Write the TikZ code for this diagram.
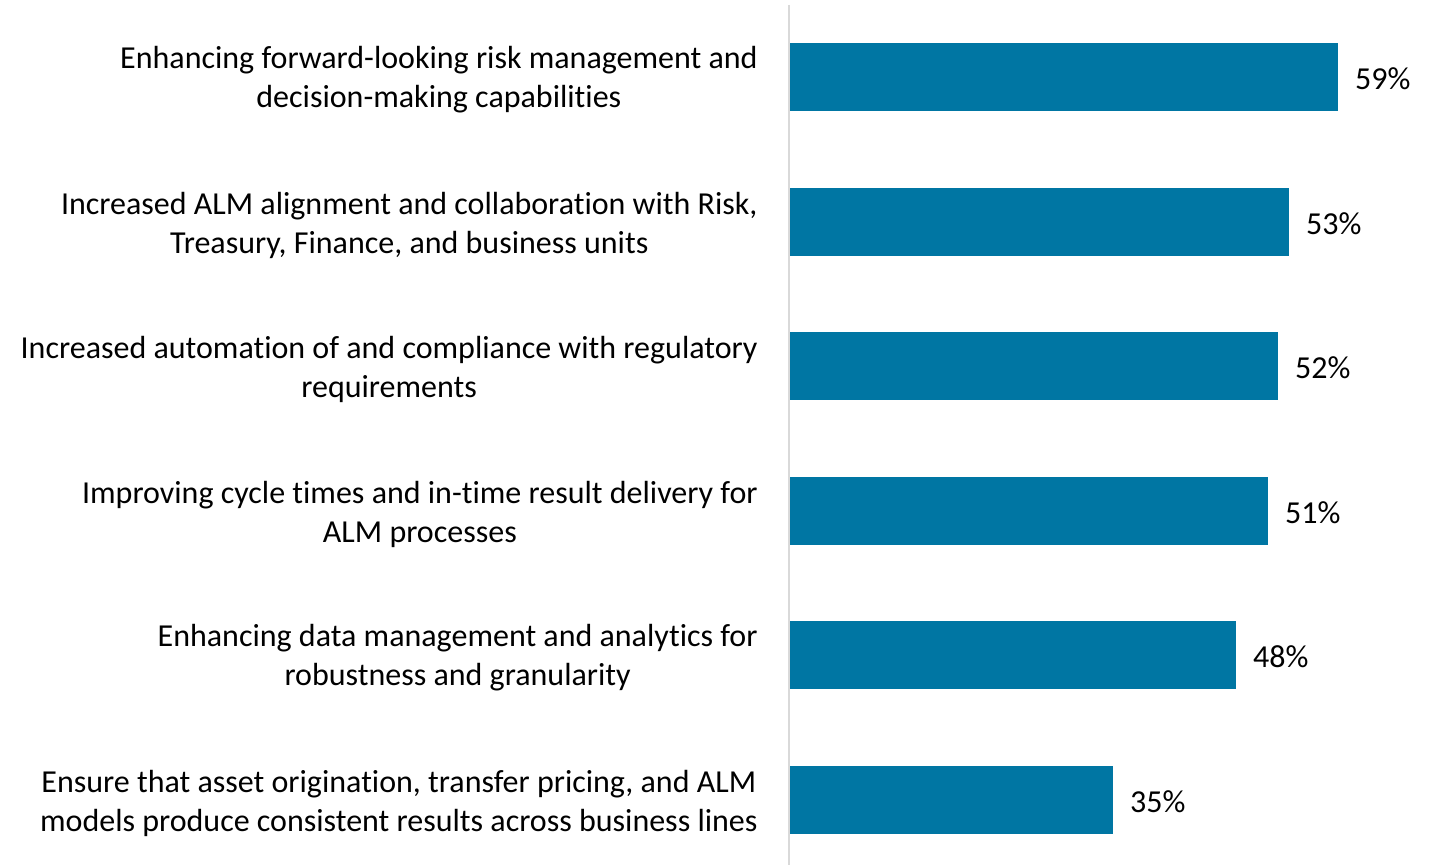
\documentclass[tikz,border=0pt]{standalone}
\usepackage{fontspec}
\setmainfont{Carlito}[Ligatures=NoCommon]
\usepackage{tikz}
\usetikzlibrary{positioning}
\usepackage{xcolor}
\definecolor{almblue}{RGB}{0,118,163}
\definecolor{axisgray}{RGB}{217,217,217}
\tikzstyle{bar} = [rectangle, fill=almblue, draw=none, anchor=west, minimum height=34pt, inner sep=0pt]
\tikzstyle{reason} = [align=center, inner sep=0pt, yshift=-1.5pt, font=\fontsize{16}{19.5}\selectfont]
\tikzstyle{pct} = [inner sep=0pt, yshift=-1pt, font=\fontsize{16}{19.5}\selectfont]
\tikzstyle{axis} = [line width=0.75pt, color=axisgray]

\begin{document}
\begin{tikzpicture}[x=0.5pt, y=-0.5pt]
\useasboundingbox (0,0) rectangle (1432,865);
% Axis
\coordinate (axtop) at (789,5);
\coordinate (axbot) at (789,865);
\draw[axis] (axtop) -- (axbot);

% Bars
\node (b1) [bar, minimum width=274pt] at (790,77) {};
\node (b2) [bar, minimum width=249.5pt] at (790,222) {};
\node (b3) [bar, minimum width=244pt] at (790,366) {};
\node (b4) [bar, minimum width=239pt] at (790,511) {};
\node (b5) [bar, minimum width=223pt] at (790,655) {};
\node (b6) [bar, minimum width=161.5pt] at (790,800) {};

% Category labels
\node (r1) [reason, left=16pt of b1] {Enhancing forward-looking risk management and\\decision-making capabilities};
\node (r2) [reason, left=16pt of b2] {Increased ALM alignment and collaboration with Risk,\\Treasury, Finance, and business units};
\node (r3) [reason, left=16pt of b3] {Increased automation of and compliance with regulatory\\requirements};
\node (r4) [reason, left=16pt of b4] {Improving cycle times and in-time result delivery for\\ALM processes};
\node (r5) [reason, left=16pt of b5] {Enhancing data management and analytics for\\robustness and granularity};
\node (r6) [reason, left=16pt of b6] {Ensure that asset origination, transfer pricing, and ALM\\models produce consistent results across business lines};

% Values
\node (p1) [pct, right=8pt of b1] {59\%};
\node (p2) [pct, right=8pt of b2] {53\%};
\node (p3) [pct, right=8pt of b3] {52\%};
\node (p4) [pct, right=8pt of b4] {51\%};
\node (p5) [pct, right=8pt of b5] {48\%};
\node (p6) [pct, right=8pt of b6] {35\%};
\end{tikzpicture}
\end{document}
